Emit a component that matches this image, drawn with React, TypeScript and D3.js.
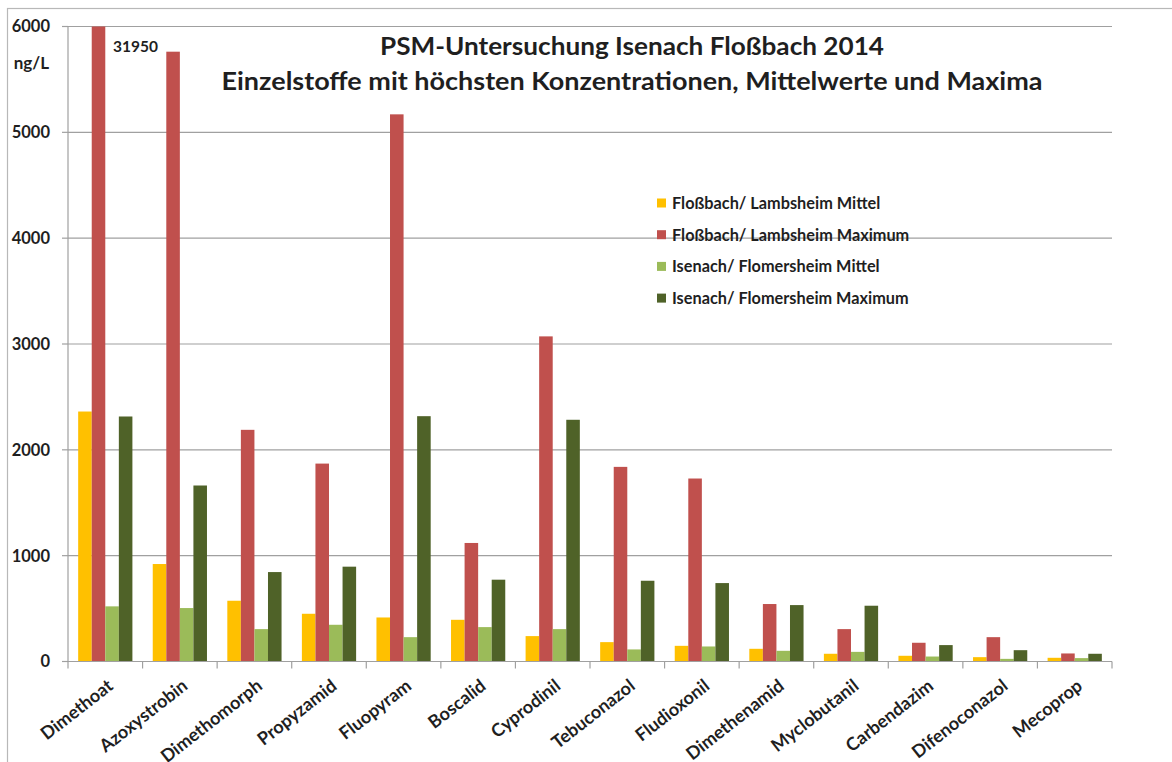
import React from 'react';
import * as d3 from 'd3';

const categories = ['Dimethoat', 'Azoxystrobin', 'Dimethomorph', 'Propyzamid', 'Fluopyram', 'Boscalid', 'Cyprodinil', 'Tebuconazol', 'Fludioxonil', 'Dimethenamid', 'Myclobutanil', 'Carbendazim', 'Difenoconazol', 'Mecoprop'];
const seriesNames = ['Floßbach/ Lambsheim Mittel', 'Floßbach/ Lambsheim Maximum', 'Isenach/ Flomersheim Mittel', 'Isenach/ Flomersheim Maximum'];
const flossMittel = [2362, 921, 574, 451, 416, 394, 240, 183, 148, 120, 73, 54, 41, 35];
const flossMax = [31950, 5762, 2189, 1870, 5170, 1120, 3072, 1839, 1729, 543, 306, 177, 230, 76];
const isenachMittel = [521, 505, 306, 347, 230, 325, 306, 114, 142, 101, 91, 47, 25, 32];
const isenachMax = [2315, 1663, 845, 896, 2318, 773, 2284, 763, 741, 533, 527, 155, 107, 73];
const yTicks = [0, 1000, 2000, 3000, 4000, 5000, 6000];
const colors = ['#FFC000', '#C0504D', '#9BBB59', '#4F6228'];
const titleLines = ['PSM-Untersuchung Isenach Floßbach 2014', 'Einzelstoffe mit höchsten Konzentrationen, Mittelwerte und Maxima'];
const titleWidths = [504, 821];
const unitLabel = 'ng/L';
const clippedLabel = '31950';

const seriesValues = [flossMittel, flossMax, isenachMittel, isenachMax];

const FONT = 'Lato, "Open Sans", sans-serif';
const TEXT = '#1f1f1f';

export default function App() {
  const W = 1172, H = 762;
  const left = 68, right = 1112, top = 26.5, bottom = 661.5;
  const x = d3.scaleBand<string>().domain(categories).range([left, right]).padding(0);
  const xs = d3.scaleBand<string>().domain(seriesNames).range([0, x.bandwidth()]).paddingInner(0).paddingOuter(0.75);
  const y = d3.scaleLinear().domain([0, 6000]).range([bottom, top]).clamp(true);

  return (
    <svg width={W} height={H} style={{ position: 'absolute', left: 0, top: 0, background: '#fff' }} fontFamily={FONT}>
      <rect x={7.5} y={8.5} width={1300} height={900} fill="none" stroke="#b8b8b8" strokeWidth={1.2} />
      {yTicks.map(t => (
        <g key={t}>
          {t > 0 && <line x1={left} x2={right} y1={y(t)} y2={y(t)} stroke="#a0a0a0" strokeWidth={1.2} />}
          <line x1={left - 6} x2={left} y1={y(t)} y2={y(t)} stroke="#a0a0a0" strokeWidth={1.2} />
          <text x={50} y={y(t)} dy="0.36em" textAnchor="end" fontSize={16.5} fontWeight={700} fill={TEXT}>{t}</text>
        </g>
      ))}
      <text x={49} y={63} dy="0.36em" textAnchor="end" fontSize={17} fontWeight={700} fill={TEXT}>{unitLabel}</text>
      {categories.map((c, i) => (
        <g key={c}>
          {seriesValues.map((vals, s) => (
            <rect key={s} x={(x(c) as number) + (xs(seriesNames[s]) as number)} y={y(vals[i])}
              width={xs.bandwidth()} height={bottom - y(vals[i])} fill={colors[s]} />
          ))}
        </g>
      ))}
      <line x1={left} x2={left} y1={top} y2={bottom} stroke="#a0a0a0" strokeWidth={1.2} />
      <line x1={left} x2={right} y1={bottom} y2={bottom} stroke="#a0a0a0" strokeWidth={1.2} />
      {categories.concat(['']).map((c, i) => {
        const xx = left + i * x.step();
        return <line key={'t' + i} x1={xx} x2={xx} y1={bottom} y2={bottom + 7} stroke="#a0a0a0" strokeWidth={1.2} />;
      })}
      {categories.map(c => {
        const cx = (x(c) as number) + x.bandwidth() / 2 + 5;
        const cy = 683;
        return (
          <text key={'l' + c} x={cx} y={cy} dy="0.36em" textAnchor="end" fontSize={18} fontWeight={700} fill={TEXT}
            transform={`rotate(-38 ${cx} ${cy})`}>{c}</text>
        );
      })}
      <text x={113} y={52} fontSize={15.5} fontWeight={700} fill={TEXT}>{clippedLabel}</text>
      {titleLines.map((t, i) => (
        <text key={t} x={632} y={55 + i * 35} textAnchor="middle" fontSize={25} fontWeight={700} fill={TEXT}
          textLength={titleWidths[i]} lengthAdjust="spacingAndGlyphs">{t}</text>
      ))}
      {seriesNames.map((n, i) => (
        <g key={n}>
          <rect x={657} y={203 + i * 31.7 - 4.5} width={9} height={9} fill={colors[i]} />
          <text x={672} y={203 + i * 31.7} dy="0.36em" fontSize={16.3} fontWeight={700} fill={TEXT}>{n}</text>
        </g>
      ))}
    </svg>
  );
}
